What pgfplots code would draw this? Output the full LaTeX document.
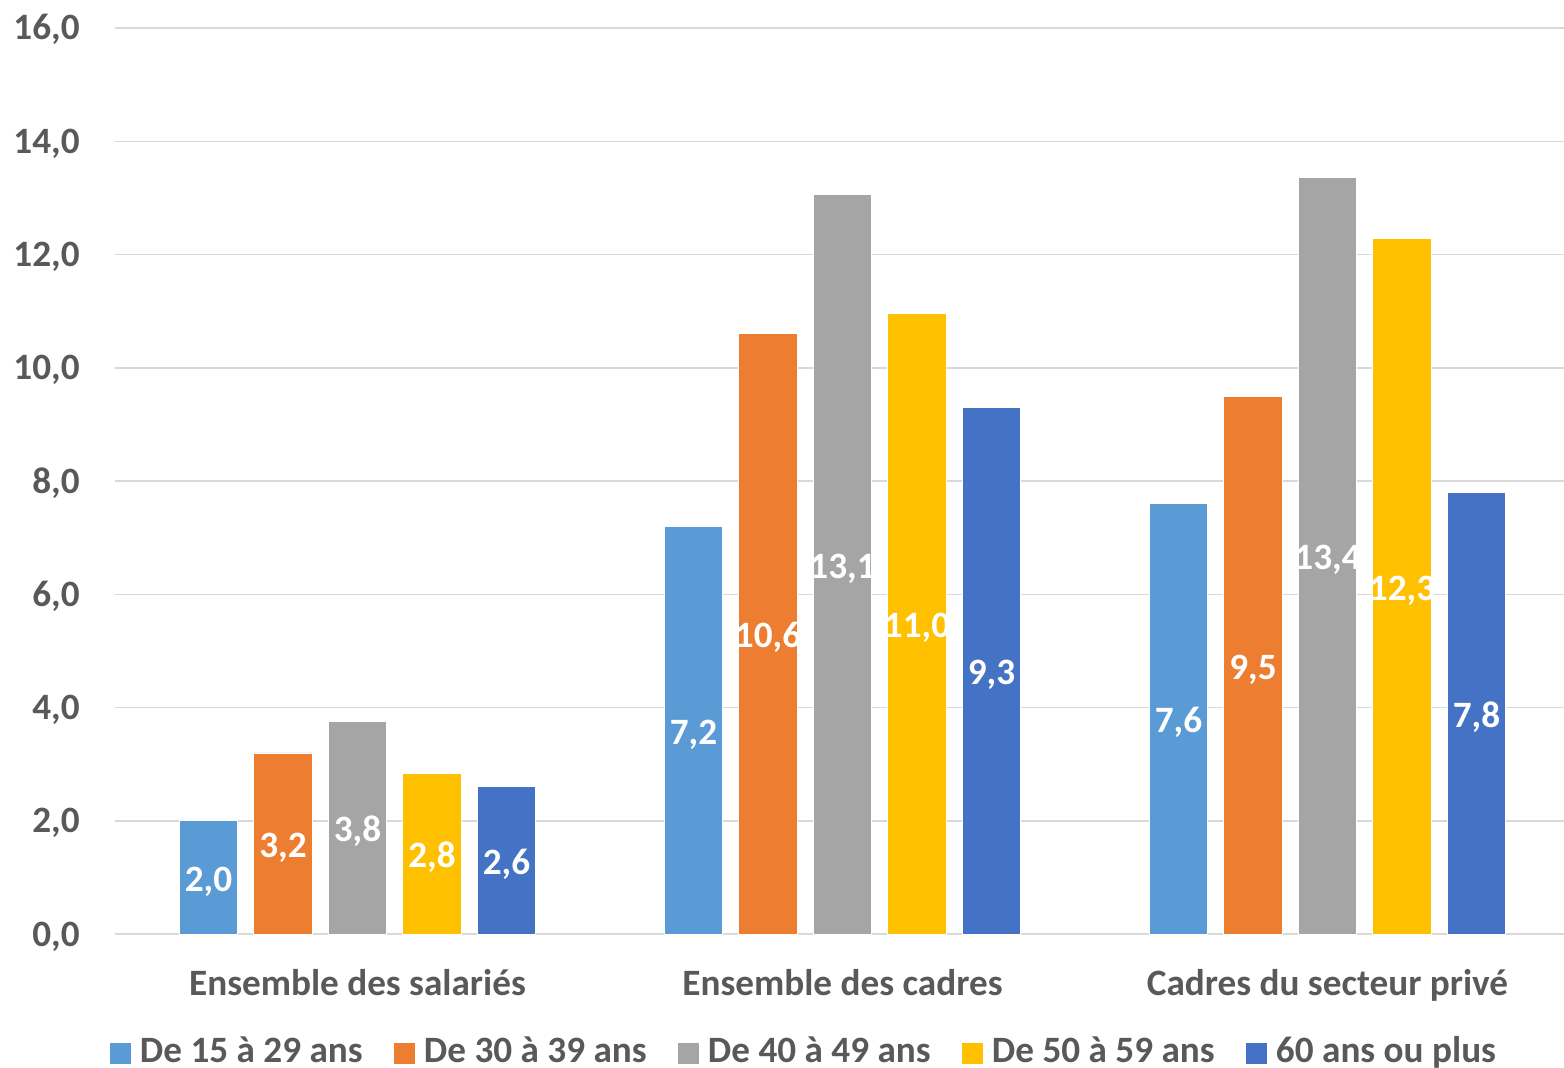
\documentclass[border=0pt]{standalone}
\usepackage{fontspec}
\setmainfont{Carlito}
\usepackage{pgfplots}
\pgfplotsset{compat=1.18}

\definecolor{ageA}{HTML}{5B9BD5}
\definecolor{ageB}{HTML}{ED7D31}
\definecolor{ageC}{HTML}{A5A5A5}
\definecolor{ageD}{HTML}{FFC000}
\definecolor{ageE}{HTML}{4472C4}
\definecolor{txtgray}{HTML}{595959}
\definecolor{gridgray}{HTML}{D9D9D9}

\newcommand{\lab}{\fontsize{18.6}{22}\selectfont\bfseries}
\newcommand{\entry}[1]{\smash{\makebox[127pt][l]{#1}}}

\pgfplotsset{
    sq/.style={legend image code/.code={\fill[##1,draw=none] (0pt,0pt) rectangle (10.5pt,10.5pt);}},
}

\begin{document}
\begin{tikzpicture}
\path[use as bounding box] (0,0) rectangle (782pt,533.5pt);
\begin{axis}[
        at={(57.5pt,66.5pt)}, anchor=south west,
        scale only axis,
        width=724.5pt,
        height=453pt,
        xmin=-0.5, xmax=2.4876,
        ymin=0, ymax=16,
        ytick={0,2,...,16},
        xtick={0,1,2},
        xticklabels={Ensemble des salariés, Ensemble des cadres, Cadres du secteur privé},
        major tick length=0pt,
        axis line style={draw=none},
        ymajorgrids=true,
        grid style={draw=gridgray, line width=0.75pt},
        ybar=8pt,
        bar width=29.25pt,
        tick label style={font=\lab, text=txtgray, inner sep=0pt},
        yticklabel style={anchor=base east, xshift=-17.5pt, yshift=-6pt},
        xticklabel style={anchor=base, yshift=-30.5pt},
        /pgf/number format/use comma,
        /pgf/number format/fixed,
        /pgf/number format/fixed zerofill,
        /pgf/number format/precision=1,
        /pgf/number format/assume math mode=true,
        nodes near coords,
        visualization depends on={y \as \rawy},
        every node near coord/.append style={font=\lab, text=white, inner sep=0pt,
            anchor=base, shift={(axis direction cs:0,-\rawy/2)}, yshift=-7pt},
        legend columns=5,
        legend cell align=left,
        legend style={at={(axis description cs:0,0)}, anchor=south west,
            xshift=-2.5pt, yshift=-65.5pt,
            draw=none, fill=none, inner sep=0pt, outer sep=0pt,
            font=\lab, text=txtgray,
            nodes={inner sep=0pt},
            /tikz/every odd column/.append style={column sep=4.5pt}},
    ]
    \addplot[sq, fill=ageA, draw=white, line width=0.3pt] coordinates {(0,2.0) (1,7.2) (2,7.6)};
    \addlegendentry{\entry{De 15 à 29 ans}}
    \addplot[sq, fill=ageB, draw=white, line width=0.3pt] coordinates {(0,3.2) (1,10.6) (2,9.5)};
    \addlegendentry{\entry{De 30 à 39 ans}}
    \addplot[sq, fill=ageC, draw=white, line width=0.3pt] coordinates {(0,3.76) (1,13.06) (2,13.36)};
    \addlegendentry{\entry{De 40 à 49 ans}}
    \addplot[sq, fill=ageD, draw=white, line width=0.3pt] coordinates {(0,2.83) (1,10.96) (2,12.29)};
    \addlegendentry{\entry{De 50 à 59 ans}}
    \addplot[sq, fill=ageE, draw=white, line width=0.3pt] coordinates {(0,2.6) (1,9.3) (2,7.8)};
    \addlegendentry{\entry{60 ans ou plus}}
\end{axis}
\end{tikzpicture}
\end{document}
